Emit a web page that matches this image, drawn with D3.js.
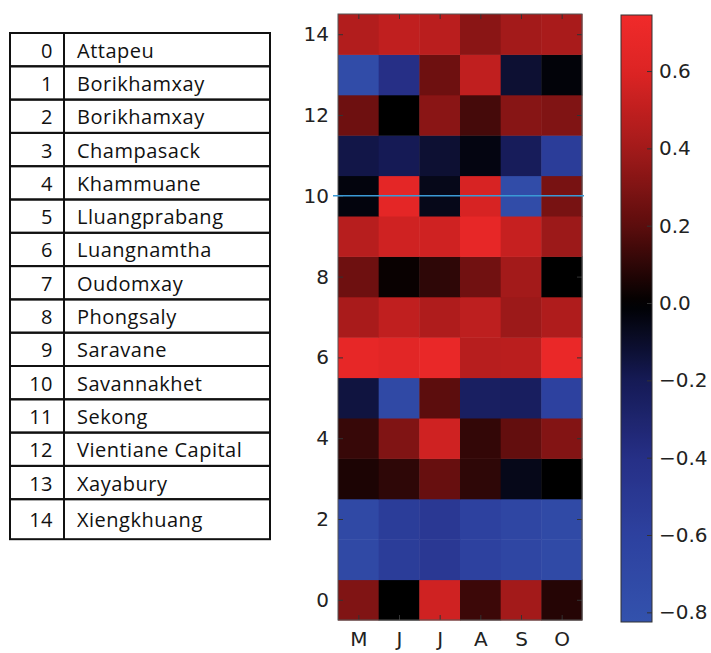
<!DOCTYPE html>
<html><head><meta charset="utf-8">
<script src="https://cdn.jsdelivr.net/npm/d3@7"></script>
<style>body{margin:0;background:#fff}</style>
</head><body>
<svg id="c" width="711" height="653"></svg>
<script>
// ---- data ----
const months = ["M", "J", "J", "A", "S", "O"];
const regionIds = [0, 1, 2, 3, 4, 5, 6, 7, 8, 9, 10, 11, 12, 13, 14];
const regionNames = ["Attapeu", "Borikhamxay", "Borikhamxay", "Champasack", "Khammuane",
  "Lluangprabang", "Luangnamtha", "Oudomxay", "Phongsaly", "Saravane", "Savannakhet",
  "Sekong", "Vientiane Capital", "Xayabury", "Xiengkhuang"];
// values[row][month], row 0 = Attapeu ... row 14 = Xiengkhuang
const values = [
  [0.30, 0.00, 0.55, 0.13, 0.40, 0.08],
  [-0.70, -0.55, -0.50, -0.60, -0.67, -0.72],
  [-0.70, -0.55, -0.50, -0.60, -0.67, -0.72],
  [0.06, 0.10, 0.23, 0.10, -0.06, 0.00],
  [0.12, 0.30, 0.55, 0.11, 0.22, 0.31],
  [-0.15, -0.70, 0.20, -0.25, -0.24, -0.60],
  [0.68, 0.64, 0.69, 0.47, 0.48, 0.70],
  [0.42, 0.50, 0.44, 0.49, 0.38, 0.44],
  [0.25, 0.02, 0.10, 0.26, 0.40, 0.00],
  [0.47, 0.55, 0.55, 0.68, 0.52, 0.38],
  [-0.03, 0.65, -0.06, 0.58, -0.75, 0.28],
  [-0.17, -0.20, -0.12, -0.04, -0.22, -0.55],
  [0.25, 0.00, 0.33, 0.15, 0.32, 0.30],
  [-0.75, -0.40, 0.25, 0.50, -0.12, -0.02],
  [0.45, 0.50, 0.48, 0.33, 0.40, 0.42]
];
const yTicks = [0, 2, 4, 6, 8, 10, 12, 14];
const cbTicks = [-0.8, -0.6, -0.4, -0.2, 0.0, 0.2, 0.4, 0.6];
const colorDomain = [-0.825, 0.745];
const hlineValue = 10;
const colorStops = [-0.825, -0.6, -0.4, -0.2, 0, 0.2, 0.4, 0.6, 0.745];
const colorRange = ["#3352ad", "#2d419f", "#262f86", "#151a55", "#000000", "#5c0d0d", "#a31a1a", "#dd2424", "#f02a2a"];

// ---- drawing ----
const svg = d3.select("#c");
const color = d3.scaleLinear().domain(colorStops).range(colorRange).clamp(true);

// table
const tLeft = 10, tRight = 270, tDiv = 64, tTop = 33, rowH = 33.3, lastH = 40;
const rowY = i => tTop + i * rowH;
const rowHt = i => i === 14 ? lastH : rowH;
const tFont = "Open Sans";
const tg = svg.append("g");
const rows = tg.selectAll("g.row").data(regionIds).join("g").attr("class", "row");
rows.append("rect")
  .attr("x", tLeft).attr("y", i => rowY(i)).attr("width", tRight - tLeft).attr("height", i => rowHt(i))
  .attr("fill", "none").attr("stroke", "#111").attr("stroke-width", 2);
rows.append("text")
  .attr("x", 53).attr("y", i => rowY(i) + rowHt(i) / 2 + 1).attr("dy", "0.35em")
  .attr("text-anchor", "end").attr("font-family", tFont).attr("font-size", 20).attr("fill", "#111")
  .attr("letter-spacing", 0.5)
  .text(i => i);
rows.append("text")
  .attr("x", 77).attr("y", i => rowY(i) + rowHt(i) / 2 + 1).attr("dy", "0.35em")
  .attr("font-family", tFont).attr("font-size", 20).attr("fill", "#111")
  .attr("letter-spacing", 0.5)
  .text(i => regionNames[i]);
tg.append("line").attr("x1", tDiv).attr("x2", tDiv).attr("y1", tTop).attr("y2", rowY(14) + lastH)
  .attr("stroke", "#111").attr("stroke-width", 2);

// heatmap
const hmL = 338, hmR = 582, hmT = 14, hmB = 620;
const x = d3.scaleBand().domain(d3.range(months.length)).range([hmL, hmR]).padding(0);
const y = d3.scaleLinear().domain([-0.5, 14.5]).range([hmB, hmT]);
const cells = [];
values.forEach((row, r) => row.forEach((v, c) => cells.push({ r, c, v })));
svg.append("g").selectAll("rect").data(cells).join("rect")
  .attr("x", d => x(d.c)).attr("y", d => y(d.r + 0.5))
  .attr("width", x.bandwidth() + 0.5).attr("height", d => y(d.r - 0.5) - y(d.r + 0.5) + 0.5)
  .attr("fill", d => color(d.v));

const fontAx = "DejaVu Sans";
const axL = svg.append("g").attr("transform", `translate(${hmL},0)`)
  .call(d3.axisLeft(y).tickValues(yTicks).tickSize(-5).tickPadding(9).tickFormat(d3.format("d")));
const axR = svg.append("g").attr("transform", `translate(${hmR},0)`)
  .call(d3.axisRight(y).tickValues(yTicks).tickSize(-5).tickFormat(""));
const xs = d3.scaleLinear().domain([-0.5, 5.5]).range([hmL, hmR]);
const axB = svg.append("g").attr("transform", `translate(0,${hmB})`)
  .call(d3.axisBottom(xs).tickValues(d3.range(months.length)).tickSize(-5).tickPadding(12).tickFormat(i => months[i]));
const axT = svg.append("g").attr("transform", `translate(0,${hmT})`)
  .call(d3.axisTop(xs).tickValues(d3.range(months.length)).tickSize(-5).tickFormat(""));
[axL, axR, axB, axT].forEach(a => {
  a.select(".domain").remove();
  a.selectAll("line").attr("stroke", "#333");
  a.selectAll("text").attr("font-family", fontAx).attr("font-size", 20).attr("fill", "#222");
});
svg.append("rect").attr("x", hmL).attr("y", hmT).attr("width", hmR - hmL).attr("height", hmB - hmT)
  .attr("fill", "none").attr("stroke", "#555").attr("stroke-width", 1);

// horizontal line
svg.append("line").attr("x1", hmL - 5).attr("x2", hmR + 2).attr("y1", y(hlineValue)).attr("y2", y(hlineValue))
  .attr("stroke", "#3a9ad6").attr("stroke-width", 1.5);

// colorbar
const cbL = 621, cbR = 652, cbT = 15, cbB = 622;
const cy = d3.scaleLinear().domain(colorDomain).range([cbB, cbT]);
const defs = svg.append("defs");
const grad = defs.append("linearGradient").attr("id", "cbg").attr("x1", 0).attr("x2", 0).attr("y1", 1).attr("y2", 0);
const nS = 60;
grad.selectAll("stop").data(d3.range(nS + 1)).join("stop")
  .attr("offset", i => i / nS)
  .attr("stop-color", i => color(colorDomain[0] + (colorDomain[1] - colorDomain[0]) * i / nS));
svg.append("rect").attr("x", cbL).attr("y", cbT).attr("width", cbR - cbL).attr("height", cbB - cbT)
  .attr("fill", "url(#cbg)").attr("stroke", "#333").attr("stroke-width", 1);
const axC = svg.append("g").attr("transform", `translate(${cbR},0)`)
  .call(d3.axisRight(cy).tickValues(cbTicks).tickSize(-5).tickPadding(7).tickFormat(d3.format(".1f")));
axC.select(".domain").remove();
axC.selectAll("line").attr("stroke", "#333");
axC.selectAll("text").attr("font-family", fontAx).attr("font-size", 20).attr("fill", "#222");
</script>
</body></html>
